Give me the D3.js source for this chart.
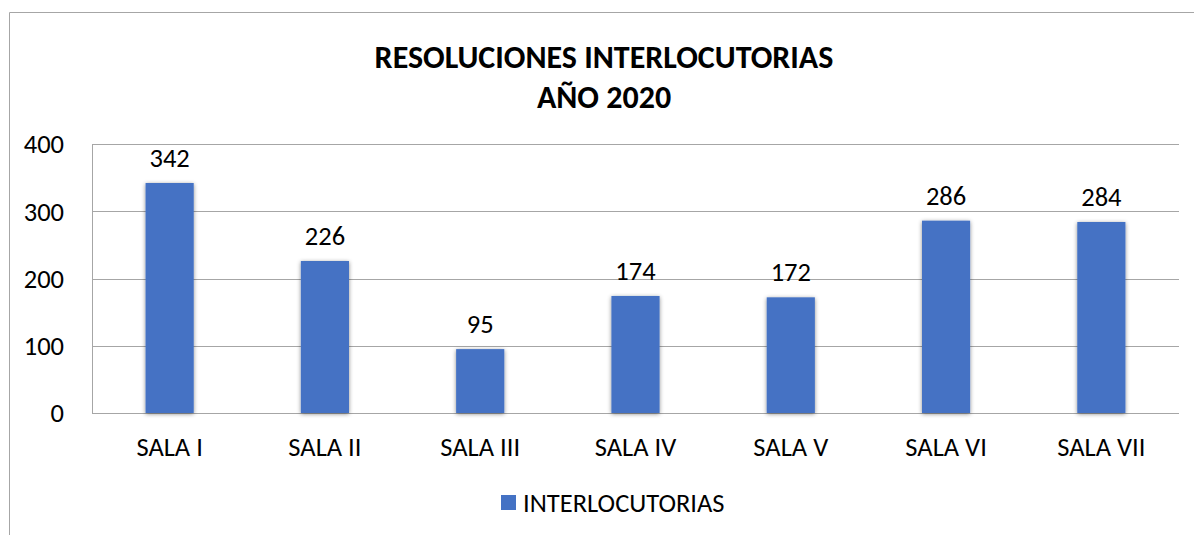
<!DOCTYPE html>
<html>
<head>
<meta charset="utf-8">
<script src="https://cdn.jsdelivr.net/npm/d3@7"></script>
<style>
  body { margin: 0; background: #fff; }
  svg { display: block; font-family: Carlito, Lato, "Open Sans", sans-serif; }
</style>
</head>
<body>
<div id="chart"></div>
<script>
// data
const categories = ["SALA I", "SALA II", "SALA III", "SALA IV", "SALA V", "SALA VI", "SALA VII"];
const values = [342, 226, 95, 174, 172, 286, 284];
const yTicks = [0, 100, 200, 300, 400];
const titleLines = ["RESOLUCIONES INTERLOCUTORIAS", "AÑO 2020"];
const seriesName = "INTERLOCUTORIAS";

const width = 1194;
const height = 535;
const margin = { top: 144, right: 15, bottom: 122, left: 92 };
const barColor = "#4472C4";
const fontSize = 26.5;

const svg = d3.select("#chart").append("svg")
  .attr("width", width)
  .attr("height", height);

// shadow under the bars
const defs = svg.append("defs");
const shadow = defs.append("filter").attr("id", "shadow")
  .attr("x", "-30%").attr("y", "-10%").attr("width", "160%").attr("height", "120%");
shadow.append("feDropShadow")
  .attr("dx", 0).attr("dy", 1).attr("stdDeviation", 2.2)
  .attr("flood-color", "#000").attr("flood-opacity", 0.45);

// outer chart border (cut off at right and bottom)
svg.append("path")
  .attr("d", `M9.5,${height + 2} V12.5 H${width + 2}`)
  .attr("fill", "none")
  .attr("stroke", "#a6a6a6")
  .attr("stroke-width", 1);

// title
svg.append("g")
  .selectAll("text")
  .data(titleLines)
  .join("text")
  .attr("x", 604)
  .attr("y", (d, i) => 68 + i * 40)
  .attr("text-anchor", "middle")
  .attr("font-size", 32)
  .attr("font-weight", "bold")
  .attr("fill", "#000")
  .text(d => d);

const x = d3.scaleBand()
  .domain(categories)
  .range([margin.left, width - margin.right])
  .paddingInner(0.69)
  .paddingOuter(0.345);

const y = d3.scaleLinear()
  .domain([0, 400])
  .range([height - margin.bottom, margin.top]);

// gridlines
svg.append("g")
  .selectAll("line")
  .data(yTicks)
  .join("line")
  .attr("x1", margin.left)
  .attr("x2", width - margin.right)
  .attr("y1", d => Math.round(y(d)) + 0.5)
  .attr("y2", d => Math.round(y(d)) + 0.5)
  .attr("stroke", "#a6a6a6")
  .attr("stroke-width", 1);

// left axis line
svg.append("line")
  .attr("x1", margin.left + 0.5)
  .attr("x2", margin.left + 0.5)
  .attr("y1", y(400))
  .attr("y2", y(0))
  .attr("stroke", "#a6a6a6");

// y tick labels
svg.append("g")
  .selectAll("text")
  .data(yTicks)
  .join("text")
  .attr("x", 64)
  .attr("y", d => y(d))
  .attr("dy", "0.35em")
  .attr("text-anchor", "end")
  .attr("font-size", fontSize)
  .attr("fill", "#000")
  .text(d => d);

// bars
svg.append("g")
  .selectAll("rect")
  .data(values)
  .join("rect")
  .attr("x", (d, i) => x(categories[i]))
  .attr("y", d => y(d))
  .attr("width", x.bandwidth())
  .attr("height", d => y(0) - y(d))
  .attr("fill", barColor)
  .attr("filter", "url(#shadow)");

// value labels
svg.append("g")
  .selectAll("text")
  .data(values)
  .join("text")
  .attr("x", (d, i) => x(categories[i]) + x.bandwidth() / 2)
  .attr("y", d => y(d) - 16)
  .attr("text-anchor", "middle")
  .attr("font-size", fontSize)
  .attr("fill", "#000")
  .text(d => d);

// category labels
svg.append("g")
  .selectAll("text")
  .data(categories)
  .join("text")
  .attr("x", d => x(d) + x.bandwidth() / 2)
  .attr("y", 456)
  .attr("text-anchor", "middle")
  .attr("font-size", fontSize)
  .attr("fill", "#000")
  .text(d => d);

// legend
const legend = svg.append("g").attr("transform", "translate(501,495)");
legend.append("rect")
  .attr("width", 15)
  .attr("height", 15)
  .attr("fill", barColor);
legend.append("text")
  .attr("x", 22)
  .attr("y", 7.5)
  .attr("dy", "0.35em")
  .attr("font-size", fontSize)
  .attr("fill", "#000")
  .text(seriesName);
</script>
</body>
</html>
